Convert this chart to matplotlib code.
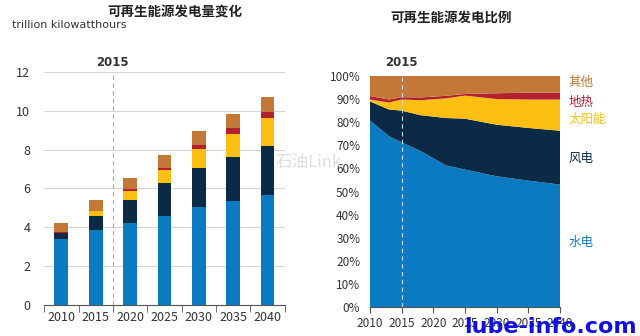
import matplotlib.pyplot as plt
import numpy as np

plt.rcParams['font.family'] = ['Noto Sans CJK SC', 'DejaVu Sans']

# left chart: generation, trillion kWh (stacked)
years = ['2010', '2015', '2020', '2025', '2030', '2035', '2040']
hydro = [3.39, 3.84, 4.25, 4.60, 5.07, 5.37, 5.67]
wind = [0.31, 0.72, 1.17, 1.66, 1.98, 2.24, 2.52]
solar = [0.03, 0.26, 0.46, 0.68, 0.97, 1.18, 1.43]
geo = [0.03, 0.03, 0.09, 0.14, 0.24, 0.30, 0.32]
other = [0.44, 0.55, 0.58, 0.62, 0.71, 0.73, 0.77]

# right chart: share of renewable generation, %
share_years = [2010, 2013, 2015, 2018, 2022, 2025, 2030, 2035, 2040]
hydro_pct = [80.7, 74.0, 71.3, 67.5, 61.3, 59.5, 56.6, 54.7, 53.0]
wind_pct = [8.3, 11.5, 13.7, 15.5, 20.5, 22.0, 22.3, 22.8, 23.3]
solar_pct = [0.8, 3.0, 4.8, 6.5, 8.5, 10.0, 11.1, 12.3, 13.5]
geo_pct = [1.5, 1.3, 1.0, 1.2, 1.1, 0.7, 2.5, 3.0, 3.0]

c_hydro = '#0b7bc1'
c_wind = '#0b2a45'
c_solar = '#fbbf12'
c_geo = '#b3202f'
c_other = '#c47838'
colors = [c_hydro, c_wind, c_solar, c_geo, c_other]

fig = plt.figure(figsize=(6.4, 3.36), dpi=100)

# watermark behind everything
fig.text(0.43, 0.515, '石油Link', ha='left', va='center', fontsize=12,
         color='#dedede', family=['Noto Sans CJK SC', 'DejaVu Serif'], zorder=0)

# ---- left: stacked bars
ax1 = fig.add_axes([0.069, 0.092, 0.376, 0.694])
ax1.patch.set_alpha(0)
x = np.arange(len(years))
bottom = np.zeros(len(years))
for vals, c in zip([hydro, wind, solar, geo, other], colors):
    ax1.bar(x, vals, 0.4, bottom=bottom, color=c, zorder=3)
    bottom += np.array(vals)

ax1.set_xlim(-0.5, 6.5)
ax1.set_ylim(0, 12)
ax1.set_yticks(range(0, 13, 2))
ax1.set_xticks(x)
ax1.set_xticklabels(years)
ax1.set_xticks(np.arange(-0.5, 7, 1), minor=True)
ax1.tick_params(axis='x', which='major', length=0, labelsize=9, colors='#333333', pad=4)
ax1.tick_params(axis='x', which='minor', length=5, color='#555555')
ax1.tick_params(axis='y', length=0, labelsize=9, labelcolor='#333333', pad=10)
ax1.grid(axis='y', color='#d5d5d5', linewidth=0.8, zorder=0)
for s in ['top', 'right', 'left']:
    ax1.spines[s].set_visible(False)
ax1.spines['bottom'].set_color('#555555')
ax1.axvline(1.5, color='#b0a8a8', linestyle=(0, (4, 3)), linewidth=0.8, zorder=4)
ax1.text(1.5, 12.5, '2015', ha='center', va='center', fontsize=8.5,
         fontweight='bold', color='#333333', family='DejaVu Sans')
fig.text(0.273, 0.962, '可再生能源发电量变化', ha='center', va='center',
         fontsize=9.7, fontweight='bold', color='#222222')
fig.text(0.018, 0.925, 'trillion kilowatthours', ha='left', va='center',
         fontsize=8, color='#333333', family='DejaVu Sans')

# ---- right: stacked area (shares)
ax2 = fig.add_axes([0.578, 0.086, 0.297, 0.688])
other_pct = [100 - h - w - s - g for h, w, s, g in
             zip(hydro_pct, wind_pct, solar_pct, geo_pct)]
ax2.stackplot(share_years, hydro_pct, wind_pct, solar_pct, geo_pct, other_pct,
              colors=colors, linewidth=0)
ax2.set_xlim(2010, 2040)
ax2.set_ylim(0, 100)
ax2.set_yticks(range(0, 101, 10))
ax2.set_yticklabels([f'{v}%' for v in range(0, 101, 10)])
ax2.set_xticks(range(2010, 2041, 5))
ax2.tick_params(axis='x', length=4, color='#555555', labelsize=8.5,
                labelcolor='#333333', pad=3)
ax2.tick_params(axis='y', length=0, labelsize=8.5, labelcolor='#333333', pad=7)
for s in ['top', 'right', 'left']:
    ax2.spines[s].set_visible(False)
ax2.spines['bottom'].set_color('#555555')
ax2.axvline(2015, color='#c8d8e8', linestyle=(0, (4, 3)), linewidth=0.8)
ax2.text(2015, 106, '2015', ha='center', va='center', fontsize=8.5,
         fontweight='bold', color='#333333', family='DejaVu Sans')
fig.text(0.705, 0.948, '可再生能源发电比例', ha='center', va='center',
         fontsize=9.7, fontweight='bold', color='#222222')

labels = ['水电', '风电', '太阳能', '地热', '其他']
label_y = [242, 158, 119, 102, 82]
for lab, yy, c in zip(labels, label_y, colors):
    fig.text(0.889, 1 - yy / 336, lab, ha='left', va='center', fontsize=9, color=c)

# site watermark over the right x labels
fig.text(0.725, 0.028, 'lube-info.com', ha='left', va='center', fontsize=16,
         fontweight='bold', color='#1010e0', family='DejaVu Sans')

fig.savefig('out.png', dpi=100)
